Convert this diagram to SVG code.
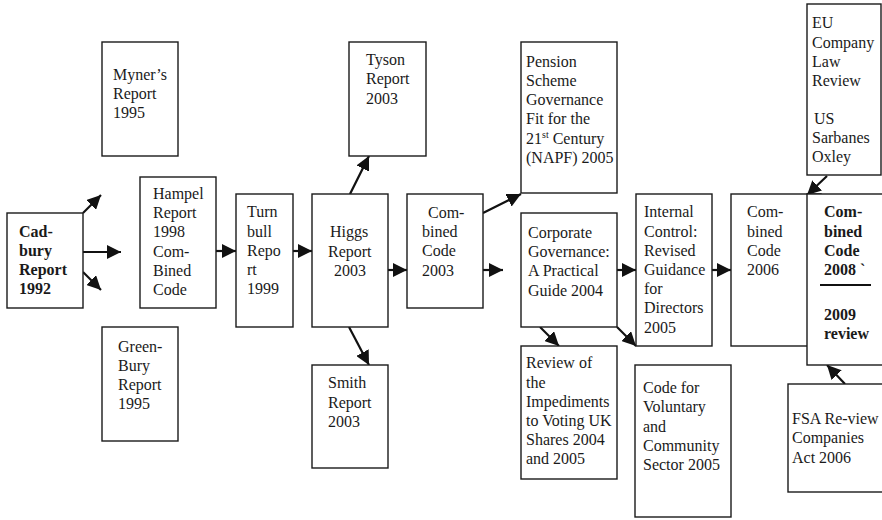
<svg xmlns="http://www.w3.org/2000/svg" width="882" height="520" viewBox="0 0 882 520">
  <style>
    .box { fill: #fff; stroke: #1a1a1a; stroke-width: 1.4; }
    .t { font-family: "Liberation Serif", "Times New Roman", serif; font-size: 16px; fill: #1a1a1a; }
    .b { font-weight: bold; }
    .sup { font-size: 10px; }
    .conn { stroke: #111; stroke-width: 2.2; fill: none; marker-end: url(#arrow); }
  </style>
  <defs>
    <marker id="arrow" markerUnits="userSpaceOnUse" markerWidth="16" markerHeight="14" refX="14" refY="7" orient="auto">
      <path d="M0,0 L14,7 L0,14 Z" fill="#111"/>
    </marker>
  </defs>
  <rect width="882" height="520" fill="#fff"/>

  <g id="connectors">
    <line class="conn" x1="83" y1="213" x2="101" y2="195"/>
    <line class="conn" x1="83" y1="252" x2="121" y2="252"/>
    <line class="conn" x1="83" y1="272" x2="101" y2="290"/>
    <line class="conn" x1="216" y1="251" x2="236" y2="251"/>
    <line class="conn" x1="293" y1="251" x2="312" y2="251"/>
    <line class="conn" x1="350" y1="194" x2="369" y2="156"/>
    <line class="conn" x1="349" y1="327" x2="369" y2="365"/>
    <line class="conn" x1="388" y1="270" x2="407" y2="270"/>
    <line class="conn" x1="483" y1="213" x2="521" y2="194"/>
    <line class="conn" x1="483" y1="270" x2="503" y2="270"/>
    <line class="conn" x1="617" y1="270" x2="636" y2="270"/>
    <line class="conn" x1="540" y1="327" x2="559" y2="346"/>
    <line class="conn" x1="617" y1="327" x2="636" y2="346"/>
    <line class="conn" x1="712" y1="270" x2="731" y2="270"/>
    <line class="conn" x1="827" y1="176" x2="807" y2="195"/>
    <line class="conn" x1="845" y1="384" x2="827" y2="365"/>
  </g>

  <g id="cadbury">
    <rect class="box" x="7" y="213" width="76" height="95"/>
    <text class="t b" x="19"><tspan x="19" y="237">Cad-</tspan><tspan x="19" y="256">bury</tspan><tspan x="19" y="275">Report</tspan><tspan x="19" y="294">1992</tspan></text>
  </g>

  <g id="myners">
    <rect class="box" x="102" y="42" width="76" height="114"/>
    <text class="t"><tspan x="113" y="80">Myner’s</tspan><tspan x="113" y="99">Report</tspan><tspan x="113" y="118">1995</tspan></text>
  </g>

  <g id="greenbury">
    <rect class="box" x="102" y="327" width="76" height="114"/>
    <text class="t"><tspan x="118" y="352">Green-</tspan><tspan x="118" y="371">Bury</tspan><tspan x="118" y="390">Report</tspan><tspan x="118" y="409">1995</tspan></text>
  </g>

  <g id="hampel">
    <rect class="box" x="140" y="177" width="76" height="131"/>
    <text class="t"><tspan x="153" y="199">Hampel</tspan><tspan x="153" y="218">Report</tspan><tspan x="153" y="237">1998</tspan><tspan x="153" y="257">Com-</tspan><tspan x="153" y="276">Bined</tspan><tspan x="153" y="295">Code</tspan></text>
  </g>

  <g id="turnbull">
    <rect class="box" x="236" y="194" width="57" height="133"/>
    <text class="t"><tspan x="247" y="217">Turn</tspan><tspan x="247" y="237">bull</tspan><tspan x="247" y="256">Repo</tspan><tspan x="247" y="275">rt</tspan><tspan x="247" y="294">1999</tspan></text>
  </g>

  <g id="higgs">
    <rect class="box" x="312" y="194" width="76" height="133"/>
    <text class="t"><tspan x="330" y="237">Higgs</tspan><tspan x="328" y="257">Report</tspan><tspan x="334" y="276">2003</tspan></text>
  </g>

  <g id="tyson">
    <rect class="box" x="349" y="42" width="77" height="114"/>
    <text class="t"><tspan x="366" y="65">Tyson</tspan><tspan x="366" y="84">Report</tspan><tspan x="366" y="104">2003</tspan></text>
  </g>

  <g id="smith">
    <rect class="box" x="312" y="365" width="76" height="103"/>
    <text class="t"><tspan x="328" y="388">Smith</tspan><tspan x="328" y="408">Report</tspan><tspan x="328" y="427">2003</tspan></text>
  </g>

  <g id="combined2003">
    <rect class="box" x="407" y="194" width="76" height="114"/>
    <text class="t"><tspan x="428" y="218">Com-</tspan><tspan x="422" y="237">bined</tspan><tspan x="422" y="256">Code</tspan><tspan x="422" y="276">2003</tspan></text>
  </g>

  <g id="pension">
    <rect class="box" x="521" y="42" width="96" height="151"/>
    <text class="t"><tspan x="526" y="67">Pension</tspan><tspan x="526" y="86">Scheme</tspan><tspan x="526" y="105">Governance</tspan><tspan x="526" y="124">Fit for the</tspan><tspan x="526" y="144">21<tspan class="sup" dy="-6">st</tspan><tspan dy="6"> Century</tspan></tspan><tspan x="526" y="163">(NAPF) 2005</tspan></text>
  </g>

  <g id="corporate">
    <rect class="box" x="521" y="213" width="96" height="114"/>
    <text class="t"><tspan x="528" y="238">Corporate</tspan><tspan x="528" y="257">Governance:</tspan><tspan x="528" y="276">A Practical</tspan><tspan x="528" y="296">Guide 2004</tspan></text>
  </g>

  <g id="review">
    <rect class="box" x="521" y="346" width="96" height="133"/>
    <text class="t"><tspan x="526" y="368">Review of</tspan><tspan x="526" y="388">the</tspan><tspan x="526" y="407">Impediments</tspan><tspan x="526" y="426">to Voting UK</tspan><tspan x="526" y="445">Shares 2004</tspan><tspan x="526" y="464">and 2005</tspan></text>
  </g>

  <g id="internal">
    <rect class="box" x="636" y="194" width="76" height="152"/>
    <text class="t"><tspan x="644" y="217">Internal</tspan><tspan x="644" y="237">Control:</tspan><tspan x="644" y="256">Revised</tspan><tspan x="644" y="275">Guidance</tspan><tspan x="644" y="294">for</tspan><tspan x="644" y="313">Directors</tspan><tspan x="644" y="333">2005</tspan></text>
  </g>

  <g id="voluntary">
    <rect class="box" x="635" y="365" width="96" height="152"/>
    <text class="t"><tspan x="643" y="393">Code for</tspan><tspan x="643" y="412">Voluntary</tspan><tspan x="643" y="432">and</tspan><tspan x="643" y="451">Community</tspan><tspan x="643" y="470">Sector 2005</tspan></text>
  </g>

  <g id="combined2006">
    <rect class="box" x="731" y="194" width="90" height="152"/>
    <text class="t"><tspan x="747" y="217">Com-</tspan><tspan x="747" y="237">bined</tspan><tspan x="747" y="256">Code</tspan><tspan x="747" y="275">2006</tspan></text>
  </g>

  <g id="combined2008">
    <rect class="box" x="807" y="194" width="90" height="171"/>
    <text class="t b"><tspan x="824" y="217">Com-</tspan><tspan x="824" y="237">bined</tspan><tspan x="824" y="256">Code</tspan><tspan x="824" y="275">2008 `</tspan></text>
    <line x1="820" y1="285" x2="871" y2="285" stroke="#111" stroke-width="2"/>
    <text class="t b"><tspan x="824" y="320">2009</tspan><tspan x="824" y="339">review</tspan></text>
  </g>

  <g id="eu">
    <rect class="box" x="807" y="4" width="74" height="171"/>
    <text class="t"><tspan x="812" y="28">EU</tspan><tspan x="812" y="48">Company</tspan><tspan x="812" y="67">Law</tspan><tspan x="812" y="86">Review</tspan><tspan x="814" y="124">US</tspan><tspan x="812" y="143">Sarbanes</tspan><tspan x="812" y="162">Oxley</tspan></text>
  </g>

  <g id="fsa">
    <rect class="box" x="788" y="384" width="110" height="108"/>
    <text class="t"><tspan x="792" y="424">FSA Re-view</tspan><tspan x="792" y="443">Companies</tspan><tspan x="792" y="463">Act 2006</tspan></text>
  </g>
</svg>
